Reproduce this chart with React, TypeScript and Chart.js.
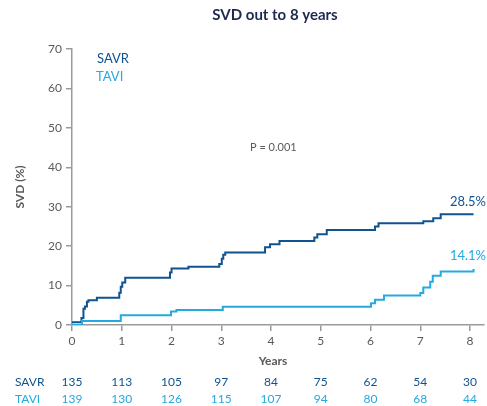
import React, { useEffect, useRef } from "react";
import { Chart, registerables } from "chart.js";

Chart.register(...registerables);

const savrYears = [0, 0.19, 0.23, 0.26, 0.30, 0.33, 0.50, 0.95, 0.98, 1.01, 1.07, 1.97, 2.00, 2.34, 2.96, 3.01, 3.04, 3.08, 3.88, 3.98, 4.17, 4.87, 4.93, 5.12, 6.09, 6.16, 7.06, 7.26, 7.41, 8.07];
const savrSVD = [0.7, 1.8, 4.1, 4.7, 5.9, 6.3, 6.9, 8.2, 9.7, 10.8, 12.0, 13.3, 14.3, 14.8, 15.5, 16.8, 17.8, 18.4, 19.7, 20.5, 21.3, 22.2, 23.0, 24.1, 25.0, 25.8, 26.3, 27.1, 28.1, 28.1];

const taviYears = [0, 0.20, 0.98, 1.99, 2.10, 3.03, 6.01, 6.09, 6.27, 7.00, 7.06, 7.20, 7.25, 7.41, 8.05, 8.07];
const taviSVD = [0, 1.0, 2.5, 3.4, 3.8, 4.6, 5.5, 6.4, 7.5, 8.1, 9.5, 11.0, 12.5, 13.6, 13.6, 14.2];

const xTicks = [0, 1, 2, 3, 4, 5, 6, 7, 8];
const yTicks = [0, 10, 20, 30, 40, 50, 60, 70];
const savrAtRisk = [135, 113, 105, 97, 84, 75, 62, 54, 30];
const taviAtRisk = [139, 130, 126, 115, 107, 94, 80, 68, 44];

const savrFinal = "28.5%";
const taviFinal = "14.1%";
const pValue = "P = 0.001";
const titleText = "SVD out to 8 years";

const SAVR_COLOR = "#0f5391";
const TAVI_COLOR = "#24a9e1";
const GRAY = "#5a5a5a";
const AXIS = "#9a9a9a";
const FONT = "Lato";

const overlay = {
  id: "overlay",
  afterDraw(chart: any) {
    const ctx = chart.ctx;
    const xs = chart.scales.x;
    ctx.save();
    ctx.textBaseline = "middle";
    // title
    ctx.fillStyle = "#1b2a4e";
    ctx.font = `bold 15px ${FONT}`;
    ctx.textAlign = "center";
    ctx.fillText(titleText, 275, 15);
    // legend
    ctx.font = `13px ${FONT}`;
    ctx.textAlign = "left";
    ctx.fillStyle = SAVR_COLOR;
    ctx.fillText("SAVR", 97, 59);
    ctx.fillStyle = TAVI_COLOR;
    ctx.fillText("TAVI", 96, 77);
    // p value
    ctx.fillStyle = GRAY;
    ctx.font = `11px ${FONT}`;
    ctx.fillText(pValue, 250, 147);
    // final labels
    ctx.font = `13px ${FONT}`;
    ctx.textAlign = "right";
    ctx.fillStyle = SAVR_COLOR;
    ctx.fillText(savrFinal, 486, 202);
    ctx.fillStyle = TAVI_COLOR;
    ctx.fillText(taviFinal, 486, 256);
    // x title
    ctx.fillStyle = GRAY;
    ctx.font = `bold 12px ${FONT}`;
    ctx.textAlign = "center";
    ctx.fillText("Years", 273, 361);
    // y title
    ctx.save();
    ctx.translate(20, 187);
    ctx.rotate(-Math.PI / 2);
    ctx.fillText("SVD (%)", 0, 0);
    ctx.restore();
    // risk table
    ctx.font = `12px ${FONT}`;
    ctx.textAlign = "left";
    ctx.fillStyle = SAVR_COLOR;
    ctx.fillText("SAVR", 15, 382);
    ctx.fillStyle = TAVI_COLOR;
    ctx.fillText("TAVI", 15, 399);
    ctx.textAlign = "center";
    xTicks.forEach((t, i) => {
      const px = xs.getPixelForValue(t);
      ctx.fillStyle = SAVR_COLOR;
      ctx.fillText(String(savrAtRisk[i]), px, 382);
      ctx.fillStyle = TAVI_COLOR;
      ctx.fillText(String(taviAtRisk[i]), px, 399);
    });
    ctx.restore();
  },
};

export default function App() {
  const ref = useRef<HTMLCanvasElement>(null);
  useEffect(() => {
    if (!ref.current) return;
    const chart = new Chart(ref.current, {
      type: "line",
      data: {
        datasets: [
          {
            label: "TAVI",
            data: taviYears.map((x, i) => ({ x, y: taviSVD[i] })),
            borderColor: TAVI_COLOR,
            borderWidth: 2,
            pointRadius: 0,
            stepped: "before",
            fill: false,
          },
          {
            label: "SAVR",
            data: savrYears.map((x, i) => ({ x, y: savrSVD[i] })),
            borderColor: SAVR_COLOR,
            borderWidth: 2,
            pointRadius: 0,
            stepped: "before",
            fill: false,
          },
        ],
      },
      options: {
        animation: false,
        responsive: false,
        maintainAspectRatio: false,
        layout: { padding: { top: 49, right: 3, left: 0, bottom: 0 } },
        plugins: { legend: { display: false }, tooltip: { enabled: false }, title: { display: false } },
        scales: {
          x: {
            type: "linear",
            min: 0,
            max: 8.28,
            afterBuildTicks: (s: any) => {
              s.ticks = xTicks.map((v) => ({ value: v }));
            },
            afterFit: (s: any) => {
              s.height = 81;
            },
            grid: { drawOnChartArea: false, drawTicks: true, tickLength: 6, color: AXIS, lineWidth: 1.5 },
            border: { color: AXIS, width: 1.5 },
            ticks: { color: GRAY, font: { family: FONT, size: 12 }, padding: 3, maxRotation: 0 },
          },
          y: {
            type: "linear",
            min: 0,
            max: 70,
            afterBuildTicks: (s: any) => {
              s.ticks = yTicks.map((v) => ({ value: v }));
            },
            afterFit: (s: any) => {
              s.width = 72;
            },
            grid: { drawOnChartArea: false, drawTicks: true, tickLength: 6, color: AXIS, lineWidth: 1.5 },
            border: { color: AXIS, width: 1.5 },
            ticks: { color: GRAY, font: { family: FONT, size: 12 }, padding: 4 },
          },
        },
      },
      plugins: [overlay],
    });
    return () => chart.destroy();
  }, []);
  return (
    <div style={{ position: "absolute", left: 0, top: 0, width: 487, height: 406, background: "#fff" }}>
      <canvas ref={ref} width={487} height={406} style={{ width: 487, height: 406, display: "block" }} />
    </div>
  );
}
